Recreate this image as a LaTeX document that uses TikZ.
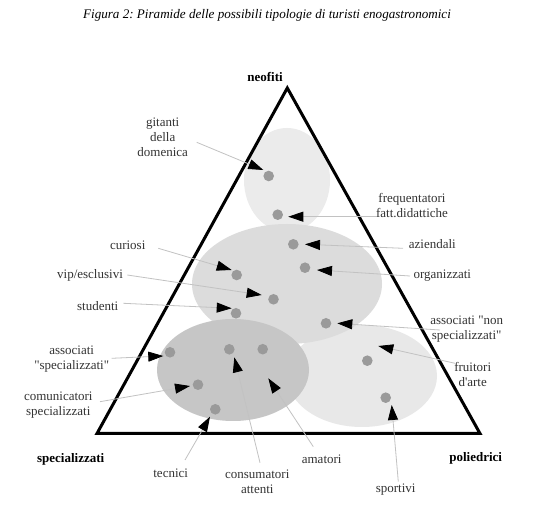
\documentclass[tikz,border=0pt]{standalone}
\usepackage{fontspec}
\setmainfont{Liberation Serif}[Ligatures=TeXOff]
\usetikzlibrary{arrows.meta}
\frenchspacing
\definecolor{ellA}{HTML}{EBEBEB}
\definecolor{ellB}{HTML}{DCDCDC}
\definecolor{ellC}{HTML}{C6C6C6}
\definecolor{ellD}{HTML}{E8E8E8}
\definecolor{dotc}{HTML}{9A9A9A}
\definecolor{linec}{HTML}{C2C2C2}
\definecolor{txt}{HTML}{333333}
\tikzset{
  lab/.style={font=\fontsize{13}{15}\selectfont, text=txt, align=center, inner sep=0pt},
  corner/.style={font=\fontsize{13}{15}\selectfont\bfseries, text=black, inner sep=0pt},
  pt/.style={circle, fill=dotc, minimum size=10.6pt, inner sep=0pt},
  arr/.style={draw=linec, line width=0.8pt, -{Triangle[length=15pt, width=10pt, color=black]}},
}
\begin{document}
\begin{tikzpicture}[x=1pt, y=-1pt]
\useasboundingbox[fill=white] (0,0) rectangle (541,510);
% title
\node[font=\fontsize{13.1}{15}\selectfont\itshape, inner sep=0pt] (title) at (267,15.5) {Figura 2: Piramide delle possibili tipologie di turisti enogastronomici};
% ellipses
\fill[ellA] (287,180) ellipse [x radius=43, y radius=52];
\fill[ellD] (362,376) ellipse [x radius=75, y radius=51];
\fill[ellB] (287,284) ellipse [x radius=95, y radius=60];
\fill[ellC] (233,370) ellipse [x radius=76, y radius=51];
% triangle
\coordinate (apex) at (287.3,88);
\coordinate (bl) at (97,433.5);
\coordinate (br) at (480,433.5);
\draw[line width=3pt, line join=miter] (apex) -- (bl) -- (br) -- cycle;
% corner labels
\node[corner] (neo) at (265,76.7) {neofiti};
\node[corner] (spec) at (70.7,459) {specializzati};
\node[corner] (poli) at (475.7,458.3) {poliedrici};
% dots
\node[pt] (d1) at (268.7,176) {};
\node[pt] (d2) at (277.7,214.7) {};
\node[pt] (d3) at (293.3,244.3) {};
\node[pt] (d4) at (305,267.7) {};
\node[pt] (d5) at (236.7,275) {};
\node[pt] (d6) at (273.5,299.3) {};
\node[pt] (d7) at (236,313.3) {};
\node[pt] (d8) at (326,323.3) {};
\node[pt] (d9) at (170,352.3) {};
\node[pt] (d10) at (229.3,349.3) {};
\node[pt] (d11) at (262.7,349.2) {};
\node[pt] (d12) at (198,384.7) {};
\node[pt] (d13) at (215.3,409.3) {};
\node[pt] (d14) at (367.3,360.7) {};
\node[pt] (d15) at (385.7,397.7) {};
% labels
\node[lab] (Lgit) at (162.7,137.5) {gitanti\\della\\domenica};
\node[lab] (Lfreq) at (412,205.7) {frequentatori\\fatt.didattiche};
\node[lab] (Lazi) at (432.3,244) {aziendali};
\node[lab] (Lorg) at (442.3,275.3) {organizzati};
\node[lab] (Lcur) at (127.7,245) {curiosi};
\node[lab] (Lvip) at (90,275.7) {vip/esclusivi};
\node[lab] (Lstu) at (97.7,306) {studenti};
\node[lab] (Lasn) at (466.7,329) {associati "non\\specializzati"};
\node[lab] (Lfru) at (472.7,374) {fruitori\\d'arte};
\node[lab] (Lspo) at (395.7,490) {sportivi};
\node[lab] (Lama) at (321.7,459) {amatori};
\node[lab] (Lcon) at (257.3,481.3) {consumatori\\attenti};
\node[lab] (Ltec) at (170.7,473.3) {tecnici};
\node[lab] (Lcom) at (58.3,405) {comunicatori\\specializzati};
\node[lab] (Lass) at (71.7,359.5) {associati\\"specializzati"};
% connector ends
\coordinate (s1) at (196.7,142.3);  \coordinate (t1) at (263.3,170);
\coordinate (s2) at (376.7,216.7);  \coordinate (t2) at (288.3,216.7);
\coordinate (s3) at (403,248.3);    \coordinate (t3) at (305,244.3);
\coordinate (s4) at (410,276);      \coordinate (t4) at (317,270);
\coordinate (s5) at (158.3,248.3);  \coordinate (t5) at (231.7,270);
\coordinate (s6) at (127.3,275);    \coordinate (t6) at (261.7,295);
\coordinate (s7) at (123.3,303.3);  \coordinate (t7) at (231.7,308.3);
\coordinate (s8) at (440,330);      \coordinate (t8) at (337.3,323.3);
\coordinate (s9) at (455,363.3);    \coordinate (t9) at (378.3,346);
\coordinate (s10) at (398.3,481.7); \coordinate (t10) at (391.7,405);
\coordinate (s11) at (313.3,446.7); \coordinate (t11) at (268.3,378.3);
\coordinate (s12) at (260,462.7);   \coordinate (t12) at (234.3,357.3);
\coordinate (s13) at (185,460);     \coordinate (t13) at (210,416.7);
\coordinate (s14) at (100,401.7);   \coordinate (t14) at (190,386);
\coordinate (s15) at (111.7,358.3); \coordinate (t15) at (163.3,356);
\foreach \i in {1,...,15} {\draw[arr] (s\i) -- (t\i);}
\end{tikzpicture}
\end{document}
